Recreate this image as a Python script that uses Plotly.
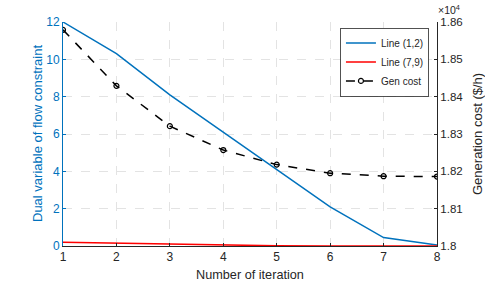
import plotly.graph_objects as go

iterations = [1, 2, 3, 4, 5, 6, 7, 8]
line_1_2 = [12.0, 10.3, 8.1, 6.1, 4.1, 2.1, 0.45, 0.05]
line_7_9 = [0.2, 0.15, 0.08, 0.03, 0.01, 0.0, 0.0, 0.0]
gen_cost = [18579, 18429, 18321, 18257, 18218, 18195, 18187, 18186]

y2_ticks = [18000, 18100, 18200, 18300, 18400, 18500, 18600]
y2_ticktext = ["1.8", "1.81", "1.82", "1.83", "1.84", "1.85", "1.86"]

BLUE = "#0072BD"
DARK = "#262626"
FONT = "Liberation Sans, Arial, sans-serif"

fig = go.Figure()
fig.add_trace(go.Scatter(x=iterations, y=line_1_2, mode="lines", name="Line (1,2)",
                         line=dict(color=BLUE, width=1.5)))
fig.add_trace(go.Scatter(x=iterations, y=line_7_9, mode="lines", name="Line (7,9)",
                         line=dict(color="#FF0000", width=1.5)))
fig.add_trace(go.Scatter(x=iterations, y=gen_cost, mode="lines+markers", name="Gen cost",
                         yaxis="y2",
                         line=dict(color="black", width=1.5, dash="dash"),
                         marker=dict(symbol="circle-open", size=5, color="black",
                                     line=dict(width=1.2))))

fig.update_layout(
    width=485, height=284,
    margin=dict(l=63, r=48, t=22, b=38, autoexpand=False),
    paper_bgcolor="white", plot_bgcolor="white",
    font=dict(family=FONT, size=11, color=DARK),
    showlegend=True,
    legend=dict(x=0.979, y=0.975, xanchor="right", yanchor="top",
                bgcolor="white", bordercolor=DARK, borderwidth=0.8,
                font=dict(size=10, color=DARK),
                tracegroupgap=0, itemwidth=30),
    xaxis=dict(range=[1, 8], tickvals=iterations, showgrid=True, automargin=False,
               gridcolor="#e3e3e3", griddash="dash", gridwidth=1,
               showline=True, linecolor=DARK, linewidth=1,
               ticks="inside", ticklen=3, tickcolor=DARK,
               zeroline=False, tickfont=dict(size=12)),
    yaxis=dict(range=[0, 12], tickvals=[0, 2, 4, 6, 8, 10, 12], showgrid=True,
               automargin=False,
               gridcolor="#e3e3e3", griddash="dash", gridwidth=1,
               showline=True, linecolor=BLUE, linewidth=1,
               ticks="inside", ticklen=3, tickcolor=BLUE,
               tickfont=dict(color=BLUE, size=12),
               zeroline=False),
    yaxis2=dict(range=[18000, 18600], overlaying="y", side="right", automargin=False,
                tickvals=y2_ticks, ticktext=y2_ticktext, showgrid=False,
                showline=True, linecolor=DARK, linewidth=1,
                ticks="inside", ticklen=3, tickcolor=DARK,
                tickfont=dict(size=11.5, color=DARK),
                zeroline=False),
    annotations=[
        dict(text="Number of iteration", x=0.5, y=-0.13, xref="paper", yref="paper",
             xanchor="center", yanchor="middle", showarrow=False,
             font=dict(size=12.7, color=DARK)),
        dict(text="Dual variable of flow constraint", x=0.0, y=0.5, xref="paper", yref="paper",
             xanchor="center", yanchor="middle", showarrow=False, textangle=-90,
             xshift=-26, font=dict(size=13, color=BLUE)),
        dict(text="Generation cost ($/h)", x=1.0, y=0.5, xref="paper", yref="paper",
             xanchor="center", yanchor="middle", showarrow=False, textangle=-90,
             xshift=40, font=dict(size=13, color=DARK)),
        dict(text="×10<sup>4</sup>", x=1.0, y=1.0, xref="paper", yref="paper",
             xanchor="left", yanchor="bottom", showarrow=False, xshift=-1, yshift=4,
             font=dict(size=10.5, color=DARK)),
    ],
)

fig.write_html("out.html", config={"displayModeBar": False},
               post_script="document.body.style.margin='0';document.body.style.padding='0';")
